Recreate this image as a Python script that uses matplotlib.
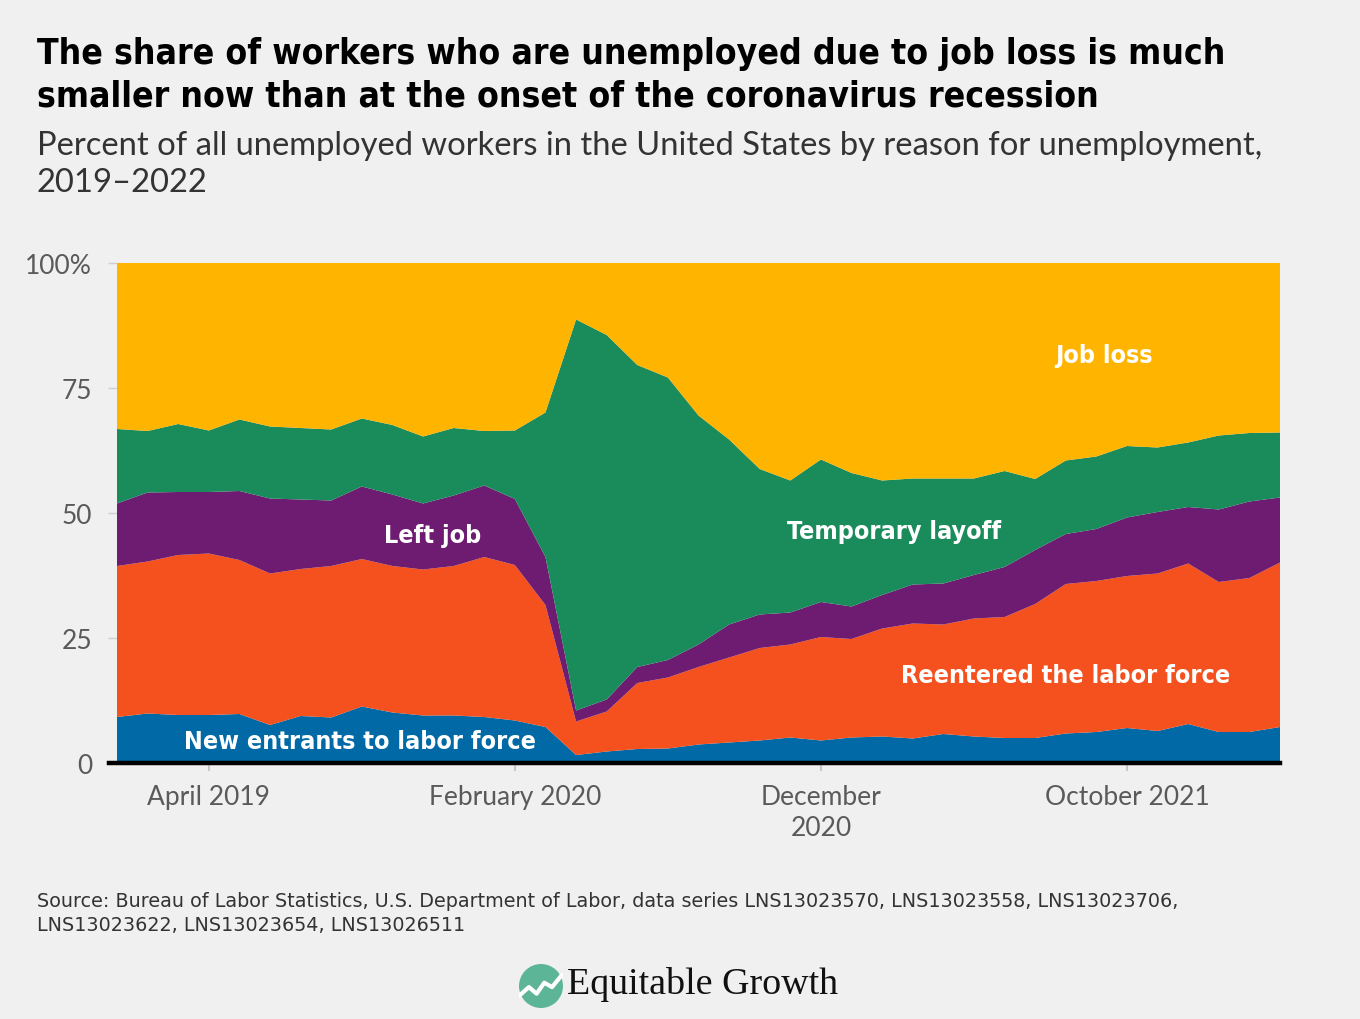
import matplotlib
matplotlib.use("Agg")
import matplotlib.pyplot as plt
import numpy as np
from matplotlib.patches import Circle
from matplotlib.lines import Line2D

# ---- data (percent of unemployed, Jan 2019 .. Mar 2022) ----
new_entrants = [9.2, 9.9, 9.6, 9.6, 9.8, 7.6, 9.4, 9.1, 11.3, 10.1, 9.5, 9.5, 9.2, 8.5, 7.2,
                1.6, 2.3, 2.8, 2.9, 3.7, 4.1, 4.5, 5.1, 4.5, 5.1, 5.3, 4.9,
                5.8, 5.3, 5.0, 5.0, 5.9, 6.2, 7.0, 6.4, 7.8, 6.2, 6.2, 7.2]
reentered = [30.2, 30.4, 32.0, 32.3, 30.8, 30.3, 29.4, 30.3, 29.5, 29.3, 29.2, 29.9, 32.0, 31.1, 24.4,
             6.7, 8.0, 13.2, 14.2, 15.5, 17.0, 18.5, 18.6, 20.7, 19.7, 21.6, 23.0,
             21.9, 23.6, 24.2, 26.8, 29.9, 30.2, 30.4, 31.5, 32.1, 30.0, 30.8, 32.9]
left_job = [12.5, 13.8, 12.6, 12.3, 13.8, 15.0, 13.9, 13.1, 14.5, 14.3, 13.2, 14.1, 14.3, 13.2, 9.6,
            2.2, 2.4, 3.2, 3.5, 4.5, 6.6, 6.7, 6.4, 7.0, 6.5, 6.7, 7.8,
            8.2, 8.7, 10.0, 10.8, 10.0, 10.4, 11.7, 12.3, 11.3, 14.5, 15.3, 13.0]
temp_layoff = [14.9, 12.3, 13.6, 12.3, 14.3, 14.4, 14.3, 14.2, 13.6, 13.9, 13.4, 13.5, 10.9, 13.7, 28.9,
               78.2, 72.9, 60.4, 56.5, 45.8, 37.0, 29.1, 26.4, 28.5, 26.7, 22.9, 21.2,
               21.0, 19.3, 19.2, 14.2, 14.7, 14.5, 14.3, 12.9, 12.9, 14.8, 13.7, 13.0]
job_loss = [33.2, 33.6, 32.2, 33.5, 31.3, 32.7, 33.0, 33.3, 31.1, 32.4, 34.7, 33.0, 33.6, 33.5, 29.9,
            11.3, 14.4, 20.4, 22.9, 30.5, 35.3, 41.2, 43.5, 39.3, 42.0, 43.5, 43.1,
            43.1, 43.1, 41.6, 43.2, 39.5, 38.7, 36.6, 36.9, 35.9, 34.5, 34.0, 33.9]

series_labels = ["New entrants to labor force", "Reentered the labor force", "Left job",
                 "Temporary layoff", "Job loss"]
tick_index = [3, 13, 23, 33]
tick_labels = ["April 2019", "February 2020", "December\n2020", "October 2021"]
y_ticks = [0, 25, 50, 75, 100]
y_tick_labels = ["0", "25", "50", "75", "100%"]

colors = ["#0069A6", "#F4511E", "#6E1C72", "#1A8C5B", "#FFB400"]
BG = "#F0F0F0"

TITLE_FONT = ["DejaVu Sans"]
LIGHT_FONT = ["Lato", "DejaVu Sans"]

fig = plt.figure(figsize=(13.6, 10.2), dpi=100, facecolor=BG)
W, H = 1360, 1020

def fx(px):
    return px / W

def fy(py):
    return 1 - py / H

ax = fig.add_axes([fx(117), fy(764), fx(1280) - fx(117), fy(264) - fy(764)])
ax.set_facecolor(BG)

x = np.arange(len(job_loss))
ax.stackplot(x, new_entrants, reentered, left_job, temp_layoff, job_loss,
             colors=colors, linewidth=0, zorder=2)
ax.set_xlim(x[0], x[-1])
ax.set_ylim(0, 100)

for s in ax.spines.values():
    s.set_visible(False)

ax.set_yticks(y_ticks)
ax.set_yticklabels(y_tick_labels)
ax.set_xticks(tick_index)
ax.set_xticklabels(tick_labels)
ax.tick_params(axis="y", length=6.5, color="#D0D0D0", width=1, pad=11.5,
               labelsize=19, labelcolor="#5A5A5A")
ax.tick_params(axis="x", length=6, color="#C8C8C8", width=1.5, pad=9,
               labelsize=19, labelcolor="#5A5A5A")
for lab in ax.get_yticklabels() + ax.get_xticklabels():
    lab.set_family(LIGHT_FONT)
for lab in ax.get_xticklabels():
    lab.set_linespacing(1.3)

# baseline
ax.add_line(Line2D([-8 / 1163, 1], [0, 0], transform=ax.transAxes, color="black",
                   lw=3.2, clip_on=False, zorder=5))
ax.axhline(100, color="#D8D8D8", lw=1, zorder=1)

# area labels
lab_kw = dict(color="white", fontsize=18, fontweight="bold", family=TITLE_FONT,
              fontstretch="condensed", ha="center", va="center", zorder=6)
ax.text(32.25, 81.6, series_labels[4], **lab_kw)
ax.text(25.4, 46.4, series_labels[3], **lab_kw)
ax.text(10.3, 45.6, series_labels[2], **lab_kw)
ax.text(31.0, 17.6, series_labels[1], **lab_kw)
ax.text(7.94, 4.4, series_labels[0], **lab_kw)

# titles
fig.text(fx(37), fy(75),
         "The share of workers who are unemployed due to job loss is much\n"
         "smaller now than at the onset of the coronavirus recession",
         family=TITLE_FONT, fontweight="bold", fontstretch="condensed", fontsize=25.5,
         color="black", ha="left", va="center", linespacing=1.3)
fig.text(fx(37), fy(146),
         "Percent of all unemployed workers in the United States by reason for unemployment,",
         family=LIGHT_FONT, fontsize=23.6, color="#333333",
         ha="left", va="center")
fig.text(fx(37), fy(183), "2019\u20132022",
         family=LIGHT_FONT, fontsize=23.6, color="#333333",
         ha="left", va="center")

# source
fig.text(fx(37), fy(902),
         "Source: Bureau of Labor Statistics, U.S. Department of Labor, data series LNS13023570, LNS13023558, LNS13023706,",
         fontsize=13.8, color="#333333", ha="left", va="center", family=["DejaVu Sans"])
fig.text(fx(37), fy(926),
         "LNS13023622, LNS13023654, LNS13026511",
         fontsize=13.8, color="#333333", ha="left", va="center", family=["DejaVu Sans"])

# logo
lax = fig.add_axes([fx(519), fy(1009), fx(44), 44 / H])
lax.set_xlim(-1, 1)
lax.set_ylim(-1, 1)
lax.set_aspect("equal")
lax.axis("off")
lax.add_patch(Circle((0, 0), 1, color="#5DB597", lw=0))
lax.plot([-1.0, -0.55, -0.2, 0.15, 0.5, 0.95], [-0.45, -0.05, -0.35, 0.15, -0.05, 0.5],
         color="white", lw=3, solid_capstyle="round")
fig.text(fx(567), fy(985), "Equitable Growth", family=["Liberation Serif", "DejaVu Serif"],
         fontsize=27.4, color="#111111", ha="left", va="center")

fig.savefig("out.png", dpi=100, facecolor=BG)
